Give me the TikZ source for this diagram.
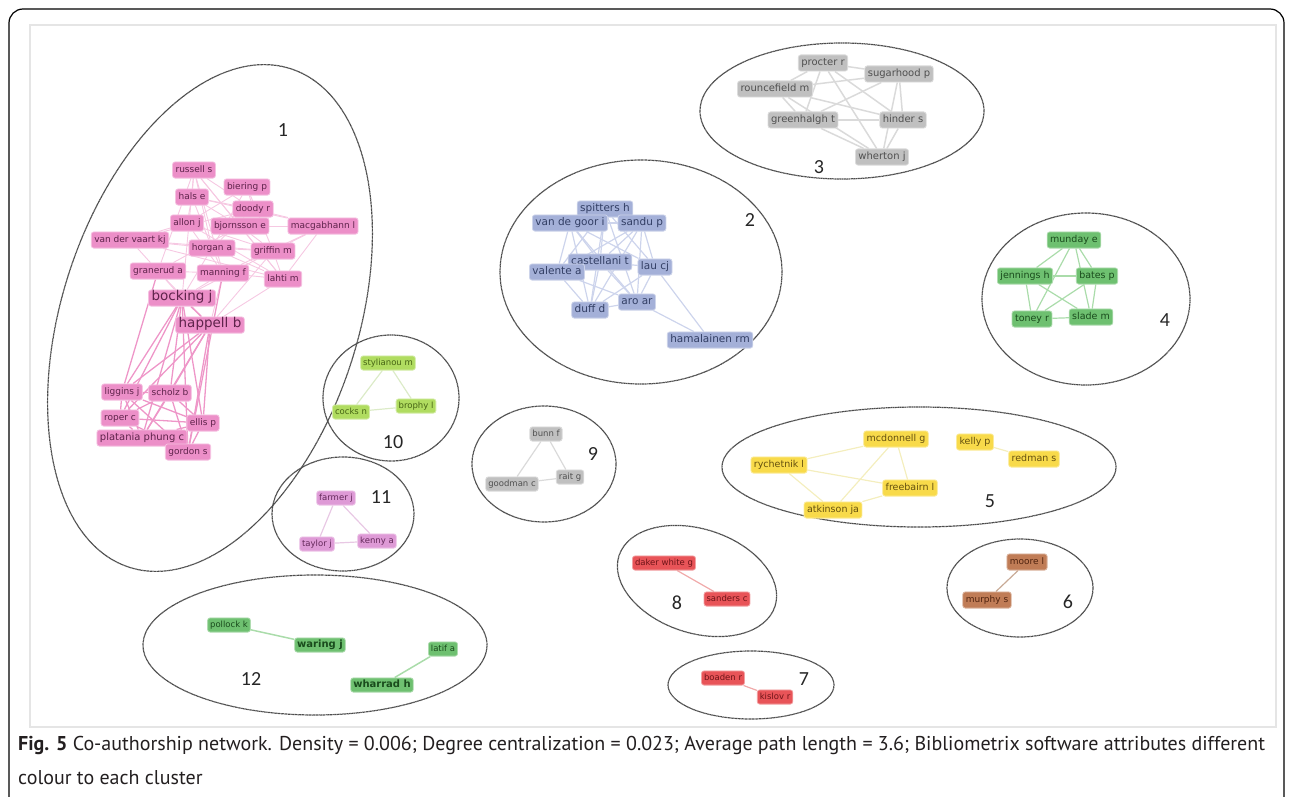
\documentclass[tikz,border=0pt]{standalone}
\usepackage{fontspec}
\setmainfont{DejaVu Sans}
\newfontfamily\numfont{Carlito}
\newfontfamily\capfont{PT Sans}
\usetikzlibrary{backgrounds}
\definecolor{pinkF}{RGB}{236,143,200}\definecolor{pinkT}{RGB}{95,35,75}
\definecolor{pinkE}{RGB}{238,150,200}\definecolor{pinkL}{RGB}{246,200,226}
\definecolor{blueF}{RGB}{164,176,216}\definecolor{blueT}{RGB}{50,62,100}\definecolor{blueE}{RGB}{205,212,236}
\definecolor{greyF}{RGB}{192,192,192}\definecolor{greyT}{RGB}{80,80,80}\definecolor{greyE}{RGB}{218,218,218}
\definecolor{grnF}{RGB}{110,192,112}\definecolor{grnT}{RGB}{25,75,28}\definecolor{grnE}{RGB}{170,220,170}
\definecolor{yelF}{RGB}{248,218,74}\definecolor{yelT}{RGB}{100,80,15}\definecolor{yelE}{RGB}{244,238,190}
\definecolor{brnF}{RGB}{192,124,86}\definecolor{brnT}{RGB}{80,35,15}\definecolor{brnE}{RGB}{200,170,150}
\definecolor{redF}{RGB}{232,84,88}\definecolor{redT}{RGB}{110,20,24}\definecolor{redE}{RGB}{240,170,170}
\definecolor{limF}{RGB}{176,220,96}\definecolor{limT}{RGB}{70,100,20}\definecolor{limE}{RGB}{220,235,200}
\definecolor{vioF}{RGB}{222,154,214}\definecolor{vioT}{RGB}{100,40,90}\definecolor{vioE}{RGB}{232,200,228}
\definecolor{capT}{RGB}{35,31,32}
\tikzset{
  nd/.style={rounded corners=2.5pt, inner xsep=3pt, inner ysep=3.5pt, text height=0.72em, text depth=0.2em, line width=0.8pt},
  fs/.style={font=\fontsize{#1}{#1}\selectfont},
  pk/.style={nd, fill=pinkF, draw=pinkF!55!white, text=pinkT, fs=9},
  bl/.style={nd, fill=blueF, draw=blueF!55!white, text=blueT, fs=10.5},
  gr/.style={nd, fill=greyF, draw=greyF!55!white, text=greyT, fs=10},
  gn/.style={nd, fill=grnF, draw=grnF!55!white, text=grnT, fs=9.5},
  ye/.style={nd, fill=yelF, draw=yelF!55!white, text=yelT, fs=9.5},
  bn/.style={nd, fill=brnF, draw=brnF!55!white, text=brnT, fs=9},
  rd/.style={nd, fill=redF, draw=redF!55!white, text=redT, fs=8.5},
  lm/.style={nd, fill=limF, draw=limF!55!white, text=limT, fs=8.5},
  vi/.style={nd, fill=vioF, draw=vioF!55!white, text=vioT, fs=8.5},
  sm/.style={inner ysep=2.5pt, inner xsep=2.5pt},
  clus/.style={draw=black!70, line width=1.2pt, dash pattern=on 1pt off 0.4pt},
  num/.style={font=\numfont\fontsize{20}{20}\selectfont, text=black!85},
  ed/.style={line width=#1},
  ed/.default=1.2pt
}
\begin{document}
\begin{tikzpicture}[x=1pt,y=-1pt]
\useasboundingbox (0,0) rectangle (1290,797);
\draw[line width=1.2pt, rounded corners=14pt] (9,820) -- (9,9) -- (1284,9) -- (1284,820);
\draw[black!10, line width=2pt] (30,25) rectangle (1276,727);

% ---------- cluster ellipses ----------
\draw[clus, rotate around={72:(210,318)}] (210,318) ellipse [x radius=262pt, y radius=148pt];
\draw[clus] (641,272) ellipse [x radius=141pt, y radius=112pt];
\draw[clus] (842,111) ellipse [x radius=142pt, y radius=68pt];
\draw[clus] (1086,299) ellipse [x radius=104pt, y radius=86pt];
\draw[clus] (919,467) ellipse [x radius=197pt, y radius=60pt];
\draw[clus] (1020,588) ellipse [x radius=73pt, y radius=49pt];
\draw[clus] (751,685) ellipse [x radius=83pt, y radius=34pt];
\draw[clus, rotate around={-18:(697,581)}] (697,581) ellipse [x radius=82pt, y radius=52pt];
\draw[clus] (544,464) ellipse [x radius=72pt, y radius=58pt];
\draw[clus] (391,398) ellipse [x radius=68pt, y radius=63pt];
\draw[clus] (343,514) ellipse [x radius=71pt, y radius=57pt];
\draw[clus] (315,645) ellipse [x radius=172pt, y radius=70pt];

% ---------- numbers ----------
\node[num] (n1) at (283,130) {1};
\node[num] (n2) at (750,220) {2};
\node[num] (n3) at (819,167) {3};
\node[num] (n4) at (1165,320) {4};
\node[num] (n5) at (990,501) {5};
\node[num] (n6) at (1068,602) {6};
\node[num] (n7) at (804,679) {7};
\node[num] (n8) at (677,603) {8};
\node[num] (n9) at (593,454) {9};
\node[num] (n10) at (393,442) {10};
\node[num] (n11) at (381,497) {11};
\node[num] (n12) at (251,679) {12};

% ---------- cluster 1 ----------
\node[pk] (russ) at (194,170) {russell s};
\node[pk] (bier) at (247,187) {biering p};
\node[pk] (hals) at (192,197) {hals e};
\node[pk] (dood) at (253,209) {doody r};
\node[pk] (allo) at (187,223) {allon j};
\node[pk] (bjor) at (240,226) {bjornsson e};
\node[pk] (macg) at (323,226) {macgabhann l};
\node[pk] (vdva) at (130,240) {van der vaart kj};
\node[pk] (horg) at (212,248) {horgan a};
\node[pk] (grif) at (273,251) {griffin m};
\node[pk] (gran) at (158,271) {granerud a};
\node[pk] (mann) at (223,273) {manning f};
\node[pk] (laht) at (283,279) {lahti m};
\node[pk, fs=13.5] (bock) at (182,298) {bocking j};
\node[pk, fs=13.5] (happ) at (210,325) {happell b};
\node[pk] (ligg) at (122,392) {liggins j};
\node[pk] (scho) at (170,393) {scholz b};
\node[pk] (rope) at (120,418) {roper c};
\node[pk] (elli) at (203,423) {ellis p};
\node[pk, fs=10] (plat) at (142,438) {platania phung c};
\node[pk] (gord) at (188,452) {gordon s};

% ---------- cluster 2 ----------
\node[bl] (spit) at (605,209) {spitters h};
\node[bl] (vdgo) at (570,223) {van de goor i};
\node[bl] (sand) at (642,223) {sandu p};
\node[bl] (cast) at (600,262) {castellani t};
\node[bl] (vale) at (557,272) {valente a};
\node[bl] (lauc) at (655,267) {lau cj};
\node[bl] (aroa) at (637,302) {aro ar};
\node[bl] (duff) at (590,310) {duff d};
\node[bl] (hama) at (710,340) {hamalainen rm};

% ---------- cluster 3 ----------
\node[gr] (proc) at (823,63) {procter r};
\node[gr] (suga) at (899,74) {sugarhood p};
\node[gr] (roun) at (775,89) {rouncefield m};
\node[gr] (gree) at (803,120) {greenhalgh t};
\node[gr] (hind) at (903,120) {hinder s};
\node[gr] (wher) at (882,157) {wherton j};

% ---------- cluster 4 ----------
\node[gn] (mund) at (1074,240) {munday e};
\node[gn] (jenn) at (1025,276) {jennings h};
\node[gn] (bate) at (1097,276) {bates p};
\node[gn] (tone) at (1032,319) {toney r};
\node[gn] (slad) at (1091,317) {slade m};

% ---------- cluster 5 ----------
\node[ye] (mcdo) at (896,439) {mcdonnell g};
\node[ye] (kell) at (975,442) {kelly p};
\node[ye] (redm) at (1034,459) {redman s};
\node[ye] (rych) at (779,465) {rychetnik l};
\node[ye] (free) at (910,488) {freebairn l};
\node[ye] (atki) at (833,510) {atkinson ja};

% ---------- cluster 6 ----------
\node[bn] (moor) at (1027,562) {moore l};
\node[bn] (murp) at (987,600) {murphy s};

% ---------- cluster 7, 8 ----------
\node[rd, sm] (boad) at (723,678) {boaden r};
\node[rd, sm] (kisl) at (775,697) {kislov r};
\node[rd, sm] (dake) at (664,563) {daker white g};
\node[rd, sm] (sanc) at (727,599) {sanders c};

% ---------- cluster 9 ----------
\node[gr, sm, fs=8.5] (bunn) at (546,434) {bunn f};
\node[gr, sm, fs=8.5] (rait) at (570,477) {rait g};
\node[gr, sm, fs=8.5] (good) at (512,484) {goodman c};

% ---------- cluster 10 ----------
\node[lm, sm] (styl) at (388,363) {stylianou m};
\node[lm, sm] (cock) at (351,412) {cocks n};
\node[lm, sm] (brop) at (416,406) {brophy l};

% ---------- cluster 11 ----------
\node[vi, sm] (farm) at (336,498) {farmer j};
\node[vi, sm] (kenn) at (377,541) {kenny a};
\node[vi, sm] (tayl) at (317,544) {taylor j};

% ---------- cluster 12 ----------
\node[gn, sm, fs=8.5] (poll) at (229,625) {pollock k};
\node[gn, sm, fs=9.5, font=\bfseries] (wari) at (320,645) {waring j};
\node[gn, sm, fs=8.5] (lati) at (443,649) {latif a};
\node[gn, sm, fs=10.5, font=\bfseries] (whar) at (382,685) {wharrad h};

% ---------- caption ----------
\node[anchor=north west, inner sep=0pt, align=left, text=capT,
      font=\capfont\fontsize{20}{34}\selectfont] (cap) at (18,736)
 {\textbf{Fig. 5} Co-authorship network. Density = 0.006; Degree centralization = 0.023; Average path length = 3.6; Bibliometrix software attributes different\\ colour to each cluster};

% ---------- edges ----------
\begin{pgfonlayer}{background}
\foreach \a/\b in {russ/hals,russ/bjor,russ/dood,russ/horg,russ/mann,russ/laht,russ/gran,bier/dood,bier/allo,bier/horg,bier/grif,hals/allo,hals/bjor,hals/dood,hals/macg,dood/macg,dood/vdva,dood/horg,allo/vdva,allo/mann,allo/laht,bjor/grif,bjor/gran,bjor/macg,bjor/laht,macg/grif,macg/laht,macg/mann,vdva/gran,vdva/grif,vdva/horg,horg/grif,horg/mann,horg/laht,grif/laht,gran/mann,gran/bock,mann/laht,mann/bock,bock/horg,bock/grif,bock/russ,happ/mann,happ/laht,happ/gran,happ/grif,allo/grif,vdva/laht,hals/horg}
  \draw[pinkL, ed=0.9pt] (\a) -- (\b);
\foreach \a/\b in {bock/happ,happ/ligg,happ/scho,happ/rope,happ/elli,happ/plat,happ/gord,bock/ligg,bock/scho,bock/rope,bock/elli,bock/plat,bock/gord,ligg/scho,ligg/rope,ligg/elli,ligg/plat,ligg/gord,scho/rope,scho/elli,scho/plat,scho/gord,rope/elli,rope/plat,rope/gord,elli/plat,elli/gord,plat/gord,gran/ligg,mann/gord}
  \draw[pinkE, ed=1.3pt] (\a) -- (\b);
\foreach \a/\b in {spit/vdgo,spit/sand,spit/cast,spit/vale,spit/duff,spit/lauc,spit/aroa,vdgo/sand,vdgo/cast,vdgo/vale,vdgo/duff,vdgo/lauc,vdgo/aroa,sand/cast,sand/lauc,sand/aroa,sand/duff,sand/vale,cast/vale,cast/lauc,cast/duff,cast/aroa,vale/duff,vale/aroa,lauc/aroa,lauc/duff,lauc/hama,aroa/duff,aroa/hama}
  \draw[blueE, ed] (\a) -- (\b);
\foreach \a/\b in {proc/suga,proc/roun,proc/gree,proc/hind,proc/wher,suga/roun,suga/gree,suga/hind,suga/wher,roun/gree,roun/hind,roun/wher,gree/hind,gree/wher,hind/wher}
  \draw[greyE, ed=1.5pt] (\a) -- (\b);
\foreach \a/\b in {mund/jenn,mund/bate,mund/tone,mund/slad,jenn/bate,jenn/tone,jenn/slad,bate/tone,bate/slad,tone/slad}
  \draw[grnE, ed] (\a) -- (\b);
\foreach \a/\b in {mcdo/rych,mcdo/free,mcdo/atki,rych/free,rych/atki,atki/free,kell/redm}
  \draw[yelE, ed] (\a) -- (\b);
\draw[brnE, ed] (moor) -- (murp);
\draw[redE, ed] (dake) -- (sanc);
\draw[redE, ed] (boad) -- (kisl);
\foreach \a/\b in {bunn/rait,bunn/good,good/rait}
  \draw[greyE, ed] (\a) -- (\b);
\foreach \a/\b in {styl/cock,styl/brop,cock/brop}
  \draw[limE, ed] (\a) -- (\b);
\foreach \a/\b in {farm/tayl,farm/kenn,tayl/kenn}
  \draw[vioE, ed] (\a) -- (\b);
\draw[grnE, ed=1.5pt] (poll) -- (wari);
\draw[grnE, ed=1.5pt] (lati) -- (whar);
\end{pgfonlayer}
\end{tikzpicture}
\end{document}
